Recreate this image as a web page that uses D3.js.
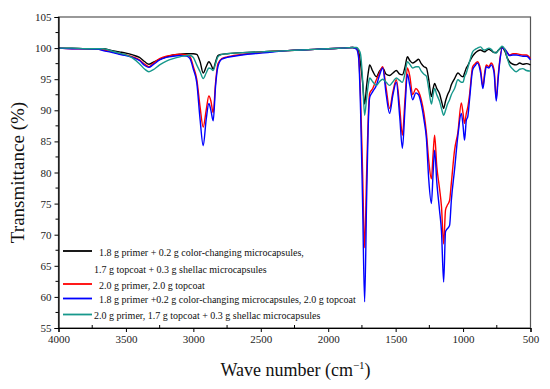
<!DOCTYPE html>
<html>
<head>
  <meta charset="utf-8">
  <title>FTIR spectra</title>
  <script src="https://d3js.org/d3.v7.min.js"></script>
  <style>
    body { margin: 0; background: #fff; }
    text { font-family: "Liberation Serif", "Times New Roman", serif; }
  </style>
</head>
<body>
  <script>
    // wavenumber grid (cm-1), shared by all four spectra
    var waveNumbers = [4000, 3900, 3800, 3700, 3670, 3600, 3550, 3500, 3450, 3400,
      3360, 3330, 3300, 3250, 3200, 3150, 3100, 3050, 3025, 3000,
      2975, 2950, 2927, 2905, 2885, 2870, 2853, 2835, 2818, 2790,
      2750, 2700, 2600, 2500, 2400, 2300, 2200, 2100, 2000, 1900,
      1820, 1790, 1775, 1760, 1745, 1730, 1715, 1700, 1693, 1670,
      1643, 1620, 1596, 1570, 1545, 1520, 1495, 1470, 1450, 1430,
      1413, 1395, 1374, 1350, 1330, 1310, 1290, 1272, 1255, 1235,
      1222, 1211, 1195, 1175, 1160, 1144, 1130, 1115, 1100, 1087,
      1063, 1038, 1013, 1000, 989, 976, 965, 952, 929, 910,
      893, 870, 853, 840, 828, 809, 791, 770, 754, 740,
      725, 710, 690, 670, 656, 630, 606, 580, 557, 530, 500];

    // transmittance (%)
    var blackT = [100.0, 100.0, 99.9, 99.9, 99.9, 99.6, 99.4, 99.2, 98.9, 98.5,
      97.8, 97.4, 97.7, 98.2, 98.6, 98.9, 99.0, 99.1, 99.1, 99.1,
      99.0, 97.8, 96.0, 97.0, 97.8, 97.4, 96.6, 97.8, 98.8, 99.0,
      99.1, 99.2, 99.3, 99.4, 99.5, 99.6, 99.7, 99.8, 99.9, 100.0,
      100.1, 100.0, 99.5, 97.5, 94.5, 91.0, 94.0, 96.5, 97.3, 96.3,
      95.4, 96.3, 96.8, 95.8, 95.6, 96.0, 96.4, 95.8, 95.7, 97.0,
      98.6, 98.0, 97.6, 97.9, 98.2, 97.5, 97.0, 96.8, 95.0, 92.2,
      93.5, 94.3, 93.5, 92.7, 91.5, 90.3, 91.5, 92.5, 93.2, 94.1,
      95.1, 96.0, 95.5, 95.4, 96.0, 96.8, 97.2, 97.8, 98.7, 99.2,
      99.5, 99.7, 99.5, 99.4, 99.6, 99.8, 99.6, 99.3, 99.3, 99.6,
      99.9, 100.1, 99.5, 98.3, 97.8, 97.4, 97.3, 97.6, 97.4, 97.5, 97.3];
    var redT = [100.0, 99.9, 99.9, 99.8, 99.7, 99.4, 99.1, 98.9, 98.6, 98.1,
      97.4, 97.0, 97.5, 98.3, 98.7, 98.9, 99.0, 98.9, 98.6, 97.0,
      95.0, 90.5, 87.3, 90.0, 92.3, 91.5, 89.6, 94.5, 97.5, 98.3,
      98.6, 98.8, 99.1, 99.3, 99.5, 99.6, 99.7, 99.8, 99.9, 100.0,
      100.1, 99.9, 99.0, 92.0, 80.0, 67.9, 80.0, 90.5, 92.7, 93.5,
      94.9, 96.0, 97.0, 93.5, 90.3, 93.0, 94.9, 90.5, 86.0, 92.0,
      96.8, 95.5, 92.5, 93.5, 93.0, 91.7, 89.5, 86.4, 82.0, 79.0,
      83.0, 86.0, 81.0, 77.5, 74.5, 68.5, 74.0, 74.8, 75.5, 78.3,
      83.6, 86.5, 91.2, 89.5, 87.9, 89.5, 90.5, 92.5, 97.0, 97.5,
      97.8, 96.5, 93.8, 96.0, 97.3, 97.0, 97.6, 96.5, 91.9, 95.5,
      98.5, 100.0, 99.8, 99.2, 98.9, 99.1, 99.1, 99.0, 98.9, 98.9, 98.3];
    var blueT = [100.0, 99.9, 99.9, 99.8, 99.6, 99.3, 99.0, 98.8, 98.5, 98.0,
      97.2, 96.9, 97.3, 98.1, 98.5, 98.7, 98.8, 98.7, 98.3, 96.6,
      94.5, 88.5, 84.3, 88.5, 91.1, 90.0, 88.3, 94.0, 97.0, 98.2,
      98.5, 98.7, 99.0, 99.2, 99.4, 99.6, 99.7, 99.8, 99.9, 100.0,
      100.1, 99.8, 98.5, 90.0, 75.0, 59.2, 76.0, 89.5, 92.0, 93.0,
      94.0, 95.6, 96.8, 92.5, 89.5, 92.5, 94.5, 89.0, 83.9, 90.5,
      95.8, 94.0, 91.7, 92.8, 92.5, 91.0, 88.5, 85.5, 79.0, 75.0,
      80.0, 83.6, 78.5, 74.0, 70.5, 62.4, 70.5, 71.0, 71.5, 75.5,
      80.5, 86.0, 89.5, 87.5, 85.2, 88.4, 89.0, 91.7, 96.5, 97.2,
      97.6, 96.0, 93.5, 95.5, 97.0, 96.8, 97.3, 96.0, 91.5, 95.0,
      98.3, 100.0, 99.8, 99.2, 98.8, 98.9, 98.9, 98.8, 98.7, 98.7, 98.1];
    var tealT = [100.0, 100.0, 99.9, 99.9, 99.9, 99.5, 99.2, 98.9, 98.4, 97.5,
      96.6, 96.2, 96.5, 97.3, 97.9, 98.3, 98.6, 98.8, 98.8, 98.5,
      97.3, 96.2, 95.1, 96.0, 96.8, 96.7, 96.4, 97.5, 98.6, 99.0,
      99.1, 99.2, 99.3, 99.4, 99.5, 99.6, 99.7, 99.8, 99.9, 100.0,
      100.1, 100.1, 99.8, 99.0, 95.0, 89.2, 92.0, 94.5, 95.2, 94.6,
      94.0, 94.6, 95.0, 94.5, 94.0, 94.6, 95.2, 94.8, 94.5, 96.0,
      97.8, 97.4, 96.8, 97.0, 97.0, 96.3, 95.8, 95.5, 93.5, 91.0,
      92.5, 93.5, 92.5, 91.5, 90.3, 89.2, 90.0, 91.0, 91.7, 92.5,
      93.5, 94.9, 94.5, 94.5, 95.4, 96.0, 96.8, 97.8, 99.4, 99.8,
      100.0, 100.2, 99.8, 99.7, 99.8, 100.0, 99.8, 99.3, 99.2, 99.6,
      100.0, 100.3, 99.8, 98.2, 97.3, 96.6, 96.2, 96.6, 96.7, 96.4, 96.3];

    var legendLabels = [
      ["1.8 g primer + 0.2 g color-changing microcapsules,", "1.7 g topcoat + 0.3 g shellac microcapsules"],
      ["2.0 g primer, 2.0 g topcoat"],
      ["1.8 g primer +0.2 g color-changing microcapsules, 2.0 g topcoat"],
      ["2.0 g primer, 1.7 g topcoat + 0.3 g shellac microcapsules"]
    ];
    var colors = ["#000000", "#ff0000", "#0000ff", "#17988c"];
    var xTicks = [4000, 3500, 3000, 2500, 2000, 1500, 1000, 500];
    var yTicks = [55, 60, 65, 70, 75, 80, 85, 90, 95, 100, 105];

    var width = 550, height = 389;
    var mLeft = 58.5, mRight = 530.5, mTop = 17, mBottom = 328;

    var svg = d3.select('body').append('svg')
      .attr('width', width)
      .attr('height', height);

    var x = d3.scaleLinear().domain([4000, 500]).range([mLeft, mRight]);
    var y = d3.scaleLinear().domain([55, 105]).range([mBottom, mTop]);

    // frame
    svg.append('rect')
      .attr('x', mLeft).attr('y', mTop)
      .attr('width', mRight - mLeft).attr('height', mBottom - mTop)
      .attr('fill', 'none').attr('stroke', '#555').attr('stroke-width', 1.2);

    // spectra
    var series = [blackT, redT, blueT, tealT];
    var line = d3.line()
      .x(function(d, i) { return x(waveNumbers[i]); })
      .y(function(d) { return y(d); })
      .curve(d3.curveMonotoneX);

    svg.append('g').selectAll('path')
      .data(series)
      .enter()
      .append('path')
      .attr('d', function(d) { return line(d); })
      .attr('fill', 'none')
      .attr('stroke', function(d, i) { return colors[i]; })
      .attr('stroke-width', 1.4)
      .attr('stroke-linejoin', 'round');

    // bottom axis: major ticks out, minor ticks in
    var xAxis = d3.axisBottom(x).tickValues(xTicks).tickSize(4).tickPadding(3)
      .tickFormat(d3.format('d'));
    var gx = svg.append('g').attr('transform', 'translate(0,' + mBottom + ')').call(xAxis);
    var xMinor = d3.range(3750, 500, -500);
    gx.selectAll('.minor').data(xMinor).enter().append('line')
      .attr('class', 'minor')
      .attr('x1', function(d) { return x(d); }).attr('x2', function(d) { return x(d); })
      .attr('y1', 0).attr('y2', -3).attr('stroke', '#000');

    var yAxis = d3.axisLeft(y).tickValues(yTicks).tickSize(4).tickPadding(3);
    var gy = svg.append('g').attr('transform', 'translate(' + mLeft + ',0)').call(yAxis);
    var yMinor = d3.range(57.5, 105, 5);
    gy.selectAll('.minor').data(yMinor).enter().append('line')
      .attr('class', 'minor')
      .attr('y1', function(d) { return y(d); }).attr('y2', function(d) { return y(d); })
      .attr('x1', 0).attr('x2', -3).attr('stroke', '#000');

    [gx, gy].forEach(function(g) {
      g.select('.domain').attr('stroke', '#000').attr('stroke-width', 1.2);
      g.selectAll('.tick line').attr('stroke', '#000');
      g.selectAll('.tick text')
        .attr('font-family', '"Liberation Serif", serif')
        .attr('font-size', 11)
        .attr('fill', '#222');
    });

    // axis titles
    var xt = svg.append('text')
      .attr('x', (mLeft + mRight) / 2 + 1).attr('y', 376)
      .attr('text-anchor', 'middle')
      .attr('font-size', 18)
      .attr('fill', '#111');
    xt.append('tspan').text('Wave number (cm');
    xt.append('tspan').attr('font-size', 11).attr('dy', -7).text('\u22121');
    xt.append('tspan').attr('dy', 7).text(')');

    svg.append('text')
      .attr('transform', 'translate(24,' + ((mTop + mBottom) / 2) + ') rotate(-90)')
      .attr('text-anchor', 'middle')
      .attr('font-size', 19)
      .attr('fill', '#111')
      .text('Transmittance (%)');

    // legend
    var legendY = [251, 284, 298.5, 314.5];
    var legend = svg.append('g');
    legendLabels.forEach(function(lines, i) {
      legend.append('line')
        .attr('x1', 63).attr('x2', 92)
        .attr('y1', legendY[i]).attr('y2', legendY[i])
        .attr('stroke', colors[i]).attr('stroke-width', 1.8);
      lines.forEach(function(t, j) {
        legend.append('text')
          .attr('x', (i === 3 || j === 1) ? 94 : 99)
          .attr('y', legendY[i] + 4.5 + j * 17)
          .attr('font-size', 10)
          .attr('fill', '#111')
          .text(t);
      });
    });
  </script>
</body>
</html>
